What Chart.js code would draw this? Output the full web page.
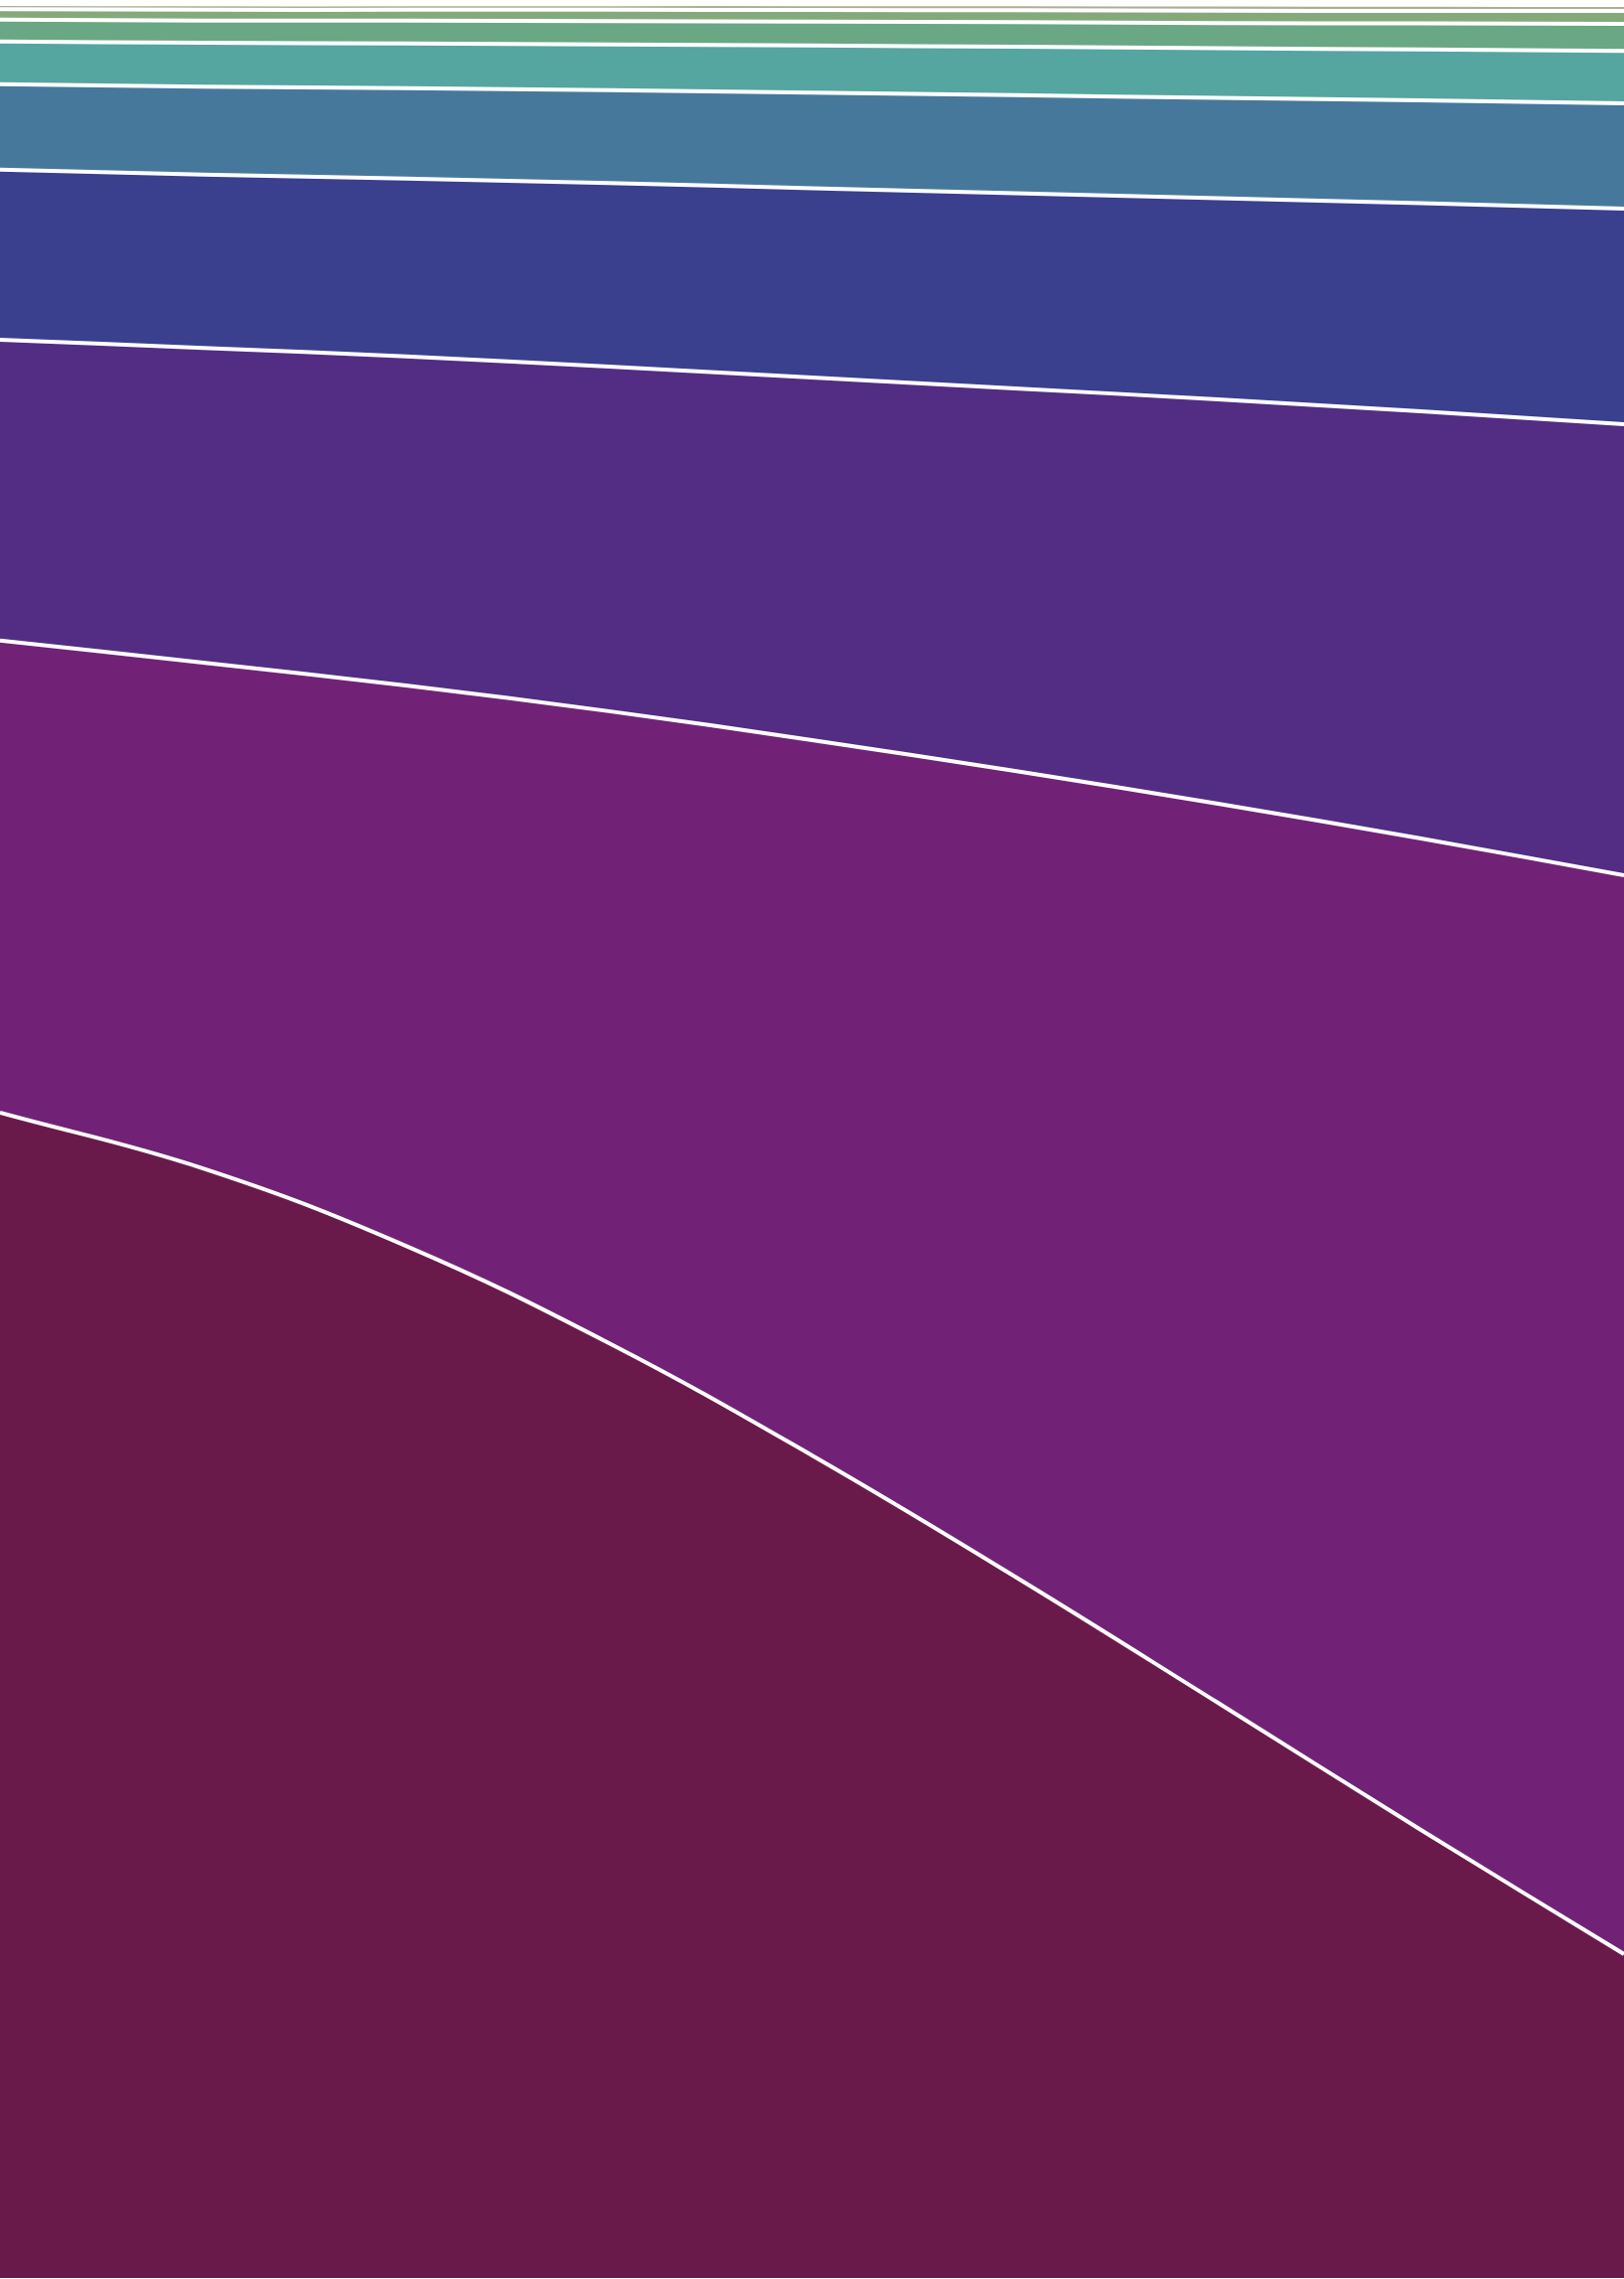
<!DOCTYPE html>
<html>
<head>
<meta charset="utf-8">
<style>
  html, body { margin: 0; padding: 0; background: #ffffff; }
  canvas { display: block; }
</style>
<script src="https://cdn.jsdelivr.net/npm/chart.js@4/dist/chart.umd.min.js"></script>
</head>
<body>
<canvas id="myChart" width="1635" height="2294"></canvas>
<script>
// x steps (no axis labels shown in the picture)
const steps = ["1", "2", "3", "4", "5", "6", "7", "8", "9"];

// layer shares in percent, bottom layer first
const layer1 = [51.16, 48.71, 45.31, 41.04, 36.11, 30.79, 25.25, 19.67, 14.22];
const layer2 = [20.72, 22.20, 24.60, 27.74, 31.40, 35.37, 39.47, 43.52, 47.36];
const layer3 = [13.21, 13.82, 14.44, 15.13, 15.92, 16.79, 17.75, 18.75, 19.80];
const layer4 = [7.46, 7.61, 7.81, 8.05, 8.31, 8.57, 8.83, 9.14, 9.46];
const layer5 = [3.75, 3.86, 3.97, 4.08, 4.19, 4.30, 4.40, 4.51, 4.62];
const layer6 = [1.88, 1.92, 1.96, 2.01, 2.07, 2.13, 2.18, 2.24, 2.31];
const layer7 = [0.96, 0.98, 1.00, 1.02, 1.05, 1.08, 1.11, 1.14, 1.18];
const layer8 = [0.46, 0.47, 0.48, 0.50, 0.51, 0.52, 0.54, 0.55, 0.57];
const layer9 = [0.23, 0.24, 0.24, 0.25, 0.26, 0.26, 0.27, 0.27, 0.26];
const layer10 = [0.12, 0.12, 0.12, 0.12, 0.12, 0.13, 0.13, 0.14, 0.14];
const layer11 = [0.07, 0.07, 0.07, 0.07, 0.07, 0.07, 0.07, 0.07, 0.07];

const layers = [layer1, layer2, layer3, layer4, layer5, layer6, layer7, layer8, layer9, layer10, layer11];
const colors = ["#6a1a4a", "#712277", "#522d83", "#3a3f8e", "#46789c", "#55a5a0",
                "#6aa784", "#84aa7c", "#a9b190", "#c9c6a4", "#e6dcc4"];

const ctx = document.getElementById("myChart");
new Chart(ctx, {
  type: "line",
  data: {
    labels: steps,
    datasets: layers.map((vals, i) => ({
      data: vals,
      backgroundColor: colors[i],
      borderColor: "#ffffff",
      borderWidth: 4,
      fill: i === 0 ? "origin" : "-1",
      pointRadius: 0,
      tension: 0.4,
    })),
  },
  options: {
    responsive: false,
    animation: false,
    devicePixelRatio: 1,
    layout: { padding: { top: 0, left: 0, right: 0, bottom: 1 } },
    plugins: { legend: { display: false }, tooltip: { enabled: false } },
    scales: {
      x: { display: false, offset: false },
      y: { display: false, stacked: true, min: 0, max: 100 },
    },
  },
});
</script>
</body>
</html>
